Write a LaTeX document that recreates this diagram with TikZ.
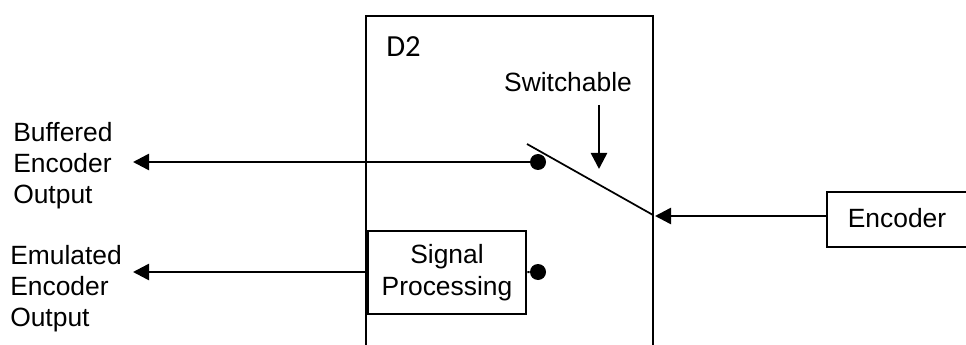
\documentclass[tikz,border=0pt]{standalone}
\usepackage{fontspec}
\setmainfont{Liberation Sans}
\newfontfamily\labelfont{Carlito}
\usetikzlibrary{arrows.meta, positioning}
\tikzset{
  label text/.style={font=\fontsize{19.8}{23.2}\selectfont, inner sep=0pt, align=left},
  center text/.style={font=\fontsize{19.8}{24}\selectfont, inner sep=0pt, align=center},
  box/.style={draw, line width=1.5pt, inner sep=0pt},
  contact/.style={circle, fill, inner sep=0pt, minimum size=12pt},
  signal/.style={-{Triangle[length=12pt, width=12pt]}, line width=1.9pt},
}
\begin{document}
\begin{tikzpicture}[x=0.75pt, y=-0.75pt, >=Stealth]
  \useasboundingbox (0,0) rectangle (966,345);
  % D2 housing, open at the bottom
  \coordinate (d2bl) at (366,345);
  \coordinate (d2tl) at (366,16);
  \coordinate (d2tr) at (653,16);
  \coordinate (d2br) at (653,345);
  \draw[line width=1.5pt] (d2bl) -- (d2tl) -- (d2tr) -- (d2br);
  \node[anchor=west, inner sep=0pt, font=\labelfont\fontsize{23}{23}\selectfont] (d2) at (386,47) {D2};

  % inner parts
  \node[center text] (switchable) at (568,82) {Switchable};
  \node[box, center text, minimum width=119pt, minimum height=62pt] (proc) at (447,272.5) {Signal\\Processing};
  \node[contact] (upper) at (538,162) {};
  \node[contact] (lower) at (538,272) {};
  \coordinate (swtop) at (527,144);
  \coordinate (swpole) at (653,215);
  \draw[line width=1.3pt] (swtop) -- (swpole);
  \coordinate (swhigh) at (599,105);
  \coordinate (swlow) at (599,169);
  \draw[signal] (swhigh) -- (swlow);
  \draw[line width=1.5pt] (proc) -- (lower);

  % outside
  \node[box, minimum width=107pt, minimum height=41pt] (encoder) at (898,219.5) {};
  \node[center text] (enclabel) at (897,218.5) {Encoder};
  \node[label text, anchor=west] (buffered) at (13,166) {Buffered\\Encoder\\Output};
  \node[label text, anchor=west] (emulated) at (10,289) {Emulated\\Encoder\\Output};
  \coordinate (buftip) at (133,162);
  \coordinate (emutip) at (133,272);
  \coordinate (enctip) at (655,216);
  \draw[signal] (upper) -- (buftip);
  \draw[signal] (proc.west |- emutip) -- (emutip);
  \draw[signal] (encoder.west |- enctip) -- (enctip);
\end{tikzpicture}
\end{document}
